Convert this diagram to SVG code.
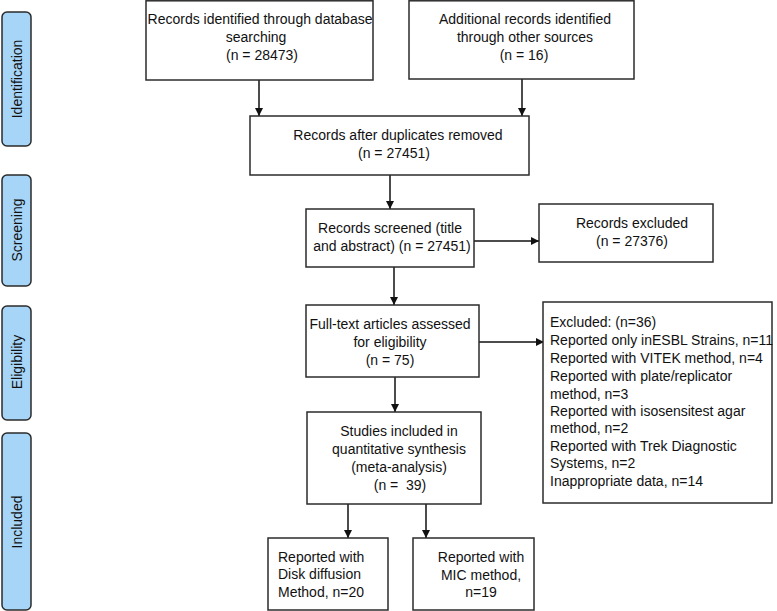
<svg xmlns="http://www.w3.org/2000/svg" width="777" height="611" viewBox="0 0 777 611">
<defs>
<style>
.box{fill:#fff;stroke:#2b2b2b;stroke-width:1.5}
.side{fill:#a6d5f7;stroke:#2b2b2b;stroke-width:1.5}
text{font-family:"Liberation Sans",Arial,sans-serif;font-size:14px;fill:#111}
.c{text-anchor:middle}
.edge{stroke:#111;stroke-width:1.5;fill:none}
</style>
<marker id="ah" viewBox="0 0 10 10" refX="10" refY="5" markerWidth="8" markerHeight="8" markerUnits="userSpaceOnUse" orient="auto">
<path d="M0,0 L10,5 L0,10 z" fill="#111"/>
</marker>
</defs>
<rect width="777" height="611" fill="#fff"/>
<g id="side-identification"><rect class="side" x="2" y="12" width="29" height="134" rx="5"/><text class="c" transform="translate(22,79) rotate(-90)">Identification</text></g>
<g id="side-screening"><rect class="side" x="2" y="175" width="29" height="111" rx="5"/><text class="c" transform="translate(22,230) rotate(-90)">Screening</text></g>
<g id="side-eligibility"><rect class="side" x="2" y="306" width="29" height="114" rx="5"/><text class="c" transform="translate(22,362) rotate(-90)">Eligibility</text></g>
<g id="side-included"><rect class="side" x="2" y="433" width="29" height="177" rx="5"/><text class="c" transform="translate(22,522) rotate(-90)">Included</text></g>
<g id="connectors">
<line class="edge" x1="259" y1="80" x2="259" y2="116" marker-end="url(#ah)"/>
<line class="edge" x1="522" y1="79" x2="522" y2="116" marker-end="url(#ah)"/>
<line class="edge" x1="390" y1="175" x2="390" y2="209" marker-end="url(#ah)"/>
<line class="edge" x1="474" y1="241" x2="539" y2="241" marker-end="url(#ah)"/>
<line class="edge" x1="394" y1="267" x2="394" y2="305" marker-end="url(#ah)"/>
<line class="edge" x1="479" y1="342" x2="544" y2="342" marker-end="url(#ah)"/>
<line class="edge" x1="395" y1="377" x2="395" y2="412" marker-end="url(#ah)"/>
<line class="edge" x1="348" y1="504" x2="348" y2="538" marker-end="url(#ah)"/>
<line class="edge" x1="426" y1="504" x2="426" y2="538" marker-end="url(#ah)"/>
</g>
<g id="n-database"><rect class="box" x="146" y="0.8" width="227" height="79.2"/><text class="c" x="260" y="24">Records identified through database</text><text class="c" x="256" y="42">searching</text><text class="c" x="262" y="60">(n = 28473)</text></g>
<g id="n-other"><rect class="box" x="409" y="0.8" width="225" height="78.2"/><text class="c" x="525" y="24">Additional records identified</text><text class="c" x="525" y="42">through other sources</text><text class="c" x="524" y="60">(n = 16)</text></g>
<g id="n-dup"><rect class="box" x="250" y="116" width="279" height="59"/><text class="c" x="398" y="140">Records after duplicates removed</text><text class="c" x="394" y="158">(n = 27451)</text></g>
<g id="n-screened"><rect class="box" x="306" y="209" width="168" height="58"/><text class="c" x="390" y="233">Records screened (title</text><text class="c" x="392" y="251">and abstract) (n = 27451)</text></g>
<g id="n-excluded"><rect class="box" x="539" y="204" width="174" height="58"/><text class="c" x="632" y="228">Records excluded</text><text class="c" x="632" y="246">(n = 27376)</text></g>
<g id="n-fulltext"><rect class="box" x="306" y="305" width="173" height="72"/><text class="c" x="390" y="329">Full-text articles assessed</text><text class="c" x="390" y="347">for eligibility</text><text class="c" x="390" y="365">(n = 75)</text></g>
<g id="n-excl36"><rect class="box" x="543" y="302" width="229" height="201"/>
<text x="550" y="327">Excluded: (n=36)</text>
<text x="550" y="345">Reported only inESBL Strains, n=11</text>
<text x="550" y="363">Reported with VITEK method, n=4</text>
<text x="550" y="381">Reported with plate/replicator</text>
<text x="550" y="399">method, n=3</text>
<text x="550" y="416">Reported with isosensitest agar</text>
<text x="550" y="433">method, n=2</text>
<text x="550" y="451">Reported with Trek Diagnostic</text>
<text x="550" y="468">Systems, n=2</text>
<text x="550" y="486">Inappropriate data, n=14</text>
</g>
<g id="n-studies"><rect class="box" x="307" y="412" width="174" height="92"/><text class="c" x="399" y="436">Studies included in</text><text class="c" x="399" y="454">quantitative synthesis</text><text class="c" x="399" y="472">(meta-analysis)</text><text class="c" x="400" y="490">(n =&#160; 39)</text></g>
<g id="n-disk"><rect class="box" x="268" y="538" width="120" height="72"/><text x="278" y="562">Reported with</text><text x="278" y="579">Disk diffusion</text><text x="278" y="597">Method, n=20</text></g>
<g id="n-mic"><rect class="box" x="413" y="538" width="121" height="72"/><text class="c" x="481" y="562">Reported with</text><text class="c" x="481" y="580">MIC method,</text><text class="c" x="481" y="597">n=19</text></g>
</svg>
